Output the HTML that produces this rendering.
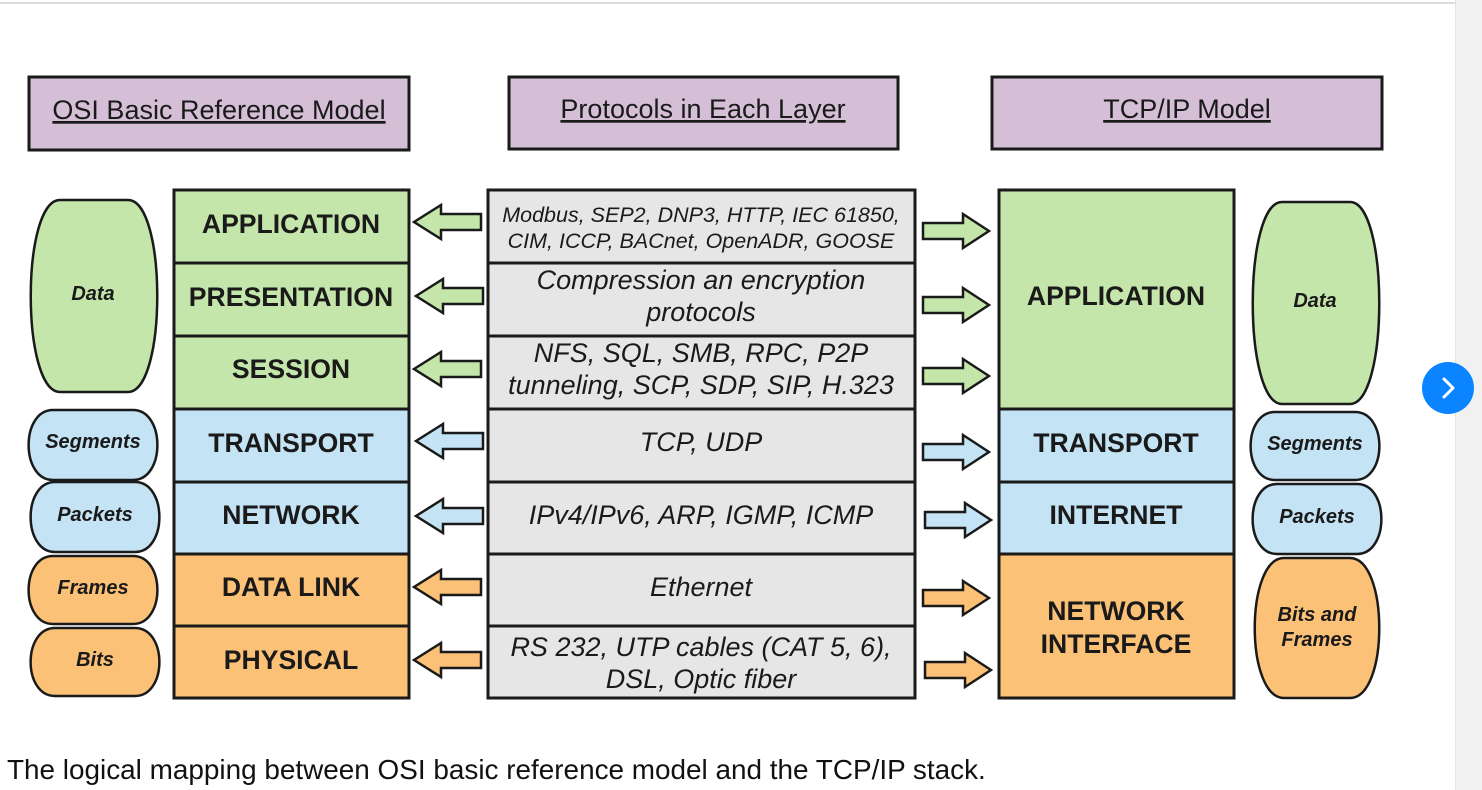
<!DOCTYPE html>
<html><head><meta charset="utf-8"><style>
html,body{margin:0;padding:0;background:#fff;width:1482px;height:790px;overflow:hidden}
svg{display:block}
text{font-family:"Liberation Sans",Arial,sans-serif;fill:#1a1a1a}
.L{font-weight:bold;font-size:26.6px;text-anchor:middle}
.P{font-style:italic;font-size:27px;text-anchor:middle}
.S{font-style:italic;font-weight:bold;font-size:20px;text-anchor:middle}
.H{font-size:27px;text-anchor:middle;text-decoration:underline}
</style></head><body>
<svg width="1482" height="790" viewBox="0 0 1482 790">
<rect x="0" y="0" width="1482" height="790" fill="#fff"/>
<rect x="1456" y="0" width="26" height="790" fill="#f1f1f1"/>
<rect x="1455" y="0" width="1" height="790" fill="#e4e4e4"/>
<rect x="0" y="2" width="1456" height="2" fill="#dcdcdc"/>
<g stroke="#1a1a1a" stroke-width="3">
<rect x="29" y="77" width="380" height="73" fill="#d5bfd6"/>
<rect x="509" y="77" width="389" height="72" fill="#d5bfd6"/>
<rect x="992" y="77" width="390" height="72" fill="#d5bfd6"/>
<rect x="174" y="190" width="235" height="73" fill="#c5e6aa"/>
<rect x="174" y="263" width="235" height="73" fill="#c5e6aa"/>
<rect x="174" y="336" width="235" height="73" fill="#c5e6aa"/>
<rect x="174" y="409" width="235" height="73" fill="#c4e3f4"/>
<rect x="174" y="482" width="235" height="72" fill="#c4e3f4"/>
<rect x="174" y="554" width="235" height="72" fill="#fbc177"/>
<rect x="174" y="626" width="235" height="72" fill="#fbc177"/>
<rect x="488" y="190" width="427" height="73" fill="#e6e6e6"/>
<rect x="488" y="263" width="427" height="73" fill="#e6e6e6"/>
<rect x="488" y="336" width="427" height="73" fill="#e6e6e6"/>
<rect x="488" y="409" width="427" height="73" fill="#e6e6e6"/>
<rect x="488" y="482" width="427" height="72" fill="#e6e6e6"/>
<rect x="488" y="554" width="427" height="72" fill="#e6e6e6"/>
<rect x="488" y="626" width="427" height="72" fill="#e6e6e6"/>
<rect x="999" y="190" width="235" height="219" fill="#c5e6aa"/>
<rect x="999" y="409" width="235" height="73" fill="#c4e3f4"/>
<rect x="999" y="482" width="235" height="72" fill="#c4e3f4"/>
<rect x="999" y="554" width="235" height="144" fill="#fbc177"/>
</g>
<g stroke="#1a1a1a" stroke-width="2.5">
<path fill="#c5e6aa" d="M60,200 H128 C167,200 167,392 128,392 H60 C21,392 21,200 60,200Z"/>
<path fill="#c4e3f4" d="M53,410 H133 C165.5,410 165.5,480 133,480 H53 C20.5,480 20.5,410 53,410Z"/>
<path fill="#c4e3f4" d="M55,482 H135 C167.5,482 167.5,552 135,552 H55 C22.5,552 22.5,482 55,482Z"/>
<path fill="#fbc177" d="M53,556 H133 C165.5,556 165.5,624 133,624 H53 C20.5,624 20.5,556 53,556Z"/>
<path fill="#fbc177" d="M55,628 H135 C167.5,628 167.5,696 135,696 H55 C22.5,696 22.5,628 55,628Z"/>
<path fill="#c5e6aa" d="M1282,202 H1350 C1389,202 1389,404 1350,404 H1282 C1243,404 1243,202 1282,202Z"/>
<path fill="#c4e3f4" d="M1275,412 H1355 C1387.5,412 1387.5,480 1355,480 H1275 C1242.5,480 1242.5,412 1275,412Z"/>
<path fill="#c4e3f4" d="M1277,484 H1357 C1389.5,484 1389.5,554 1357,554 H1277 C1244.5,554 1244.5,484 1277,484Z"/>
<path fill="#fbc177" d="M1284,558 H1350 C1389,558 1389,698 1350,698 H1284 C1245,698 1245,558 1284,558Z"/>
</g>
<defs>
<path id="la" d="M0,0 L27,-17 L27,-8 L67,-8 L67,8 L27,8 L27,17Z"/>
<path id="ra" d="M0,0 L-26,-17 L-26,-8 L-66,-8 L-66,8 L-26,8 L-26,17Z"/>
</defs>
<g stroke="#1a1a1a" stroke-width="2.5">
<use href="#la" x="414" y="222" fill="#c5e6aa"/>
<use href="#la" x="416" y="296" fill="#c5e6aa"/>
<use href="#la" x="414" y="369" fill="#c5e6aa"/>
<use href="#la" x="416" y="441" fill="#c4e3f4"/>
<use href="#la" x="416" y="516" fill="#c4e3f4"/>
<use href="#la" x="414" y="587" fill="#fbc177"/>
<use href="#la" x="414" y="660" fill="#fbc177"/>
<use href="#ra" x="989" y="231" fill="#c5e6aa"/>
<use href="#ra" x="989" y="305" fill="#c5e6aa"/>
<use href="#ra" x="989" y="376" fill="#c5e6aa"/>
<use href="#ra" x="989" y="452" fill="#c4e3f4"/>
<use href="#ra" x="991" y="520" fill="#c4e3f4"/>
<use href="#ra" x="989" y="598" fill="#fbc177"/>
<use href="#ra" x="991" y="670" fill="#fbc177"/>
</g>
<text class="H" x="219" y="119">OSI Basic Reference Model</text>
<text class="H" x="703" y="118">Protocols in Each Layer</text>
<text class="H" x="1187" y="118">TCP/IP Model</text>
<text class="L" x="291" y="233">APPLICATION</text>
<text class="L" x="291" y="306">PRESENTATION</text>
<text class="L" x="291" y="378">SESSION</text>
<text class="L" x="291" y="452">TRANSPORT</text>
<text class="L" x="291" y="524">NETWORK</text>
<text class="L" x="291" y="596">DATA LINK</text>
<text class="L" x="291" y="669">PHYSICAL</text>
<text class="L" x="1116" y="305">APPLICATION</text>
<text class="L" x="1116" y="452">TRANSPORT</text>
<text class="L" x="1116" y="524">INTERNET</text>
<text class="L" x="1116" y="620">NETWORK</text>
<text class="L" x="1116" y="653">INTERFACE</text>
<text class="P" x="701" y="222" style="font-size:21.5px">Modbus, SEP2, DNP3, HTTP, IEC 61850,</text>
<text class="P" x="701" y="248" style="font-size:21.5px">CIM, ICCP, BACnet, OpenADR, GOOSE</text>
<text class="P" x="701" y="289">Compression an encryption</text>
<text class="P" x="701" y="321">protocols</text>
<text class="P" x="701" y="362">NFS, SQL, SMB, RPC, P2P</text>
<text class="P" x="701" y="394">tunneling, SCP, SDP, SIP, H.323</text>
<text class="P" x="701" y="451">TCP, UDP</text>
<text class="P" x="701" y="524">IPv4/IPv6, ARP, IGMP, ICMP</text>
<text class="P" x="701" y="596">Ethernet</text>
<text class="P" x="701" y="656">RS 232, UTP cables (CAT 5, 6),</text>
<text class="P" x="701" y="688">DSL, Optic fiber</text>
<text class="S" x="93" y="300">Data</text>
<text class="S" x="93" y="448">Segments</text>
<text class="S" x="95" y="521">Packets</text>
<text class="S" x="93" y="594">Frames</text>
<text class="S" x="95" y="666">Bits</text>
<text class="S" x="1315" y="307">Data</text>
<text class="S" x="1315" y="450">Segments</text>
<text class="S" x="1317" y="523">Packets</text>
<text class="S" x="1317" y="621">Bits and</text>
<text class="S" x="1317" y="646">Frames</text>
<circle cx="1448" cy="388" r="26" fill="#0a84ff"/>
<path d="M1444,379 L1453,388 L1444,397" fill="none" stroke="#fff" stroke-width="3" stroke-linecap="round" stroke-linejoin="round"/>
<text x="7" y="779" style="font-size:27.9px;fill:#111">The logical mapping between OSI basic reference model and the TCP/IP stack.</text>
</svg>
</body></html>
